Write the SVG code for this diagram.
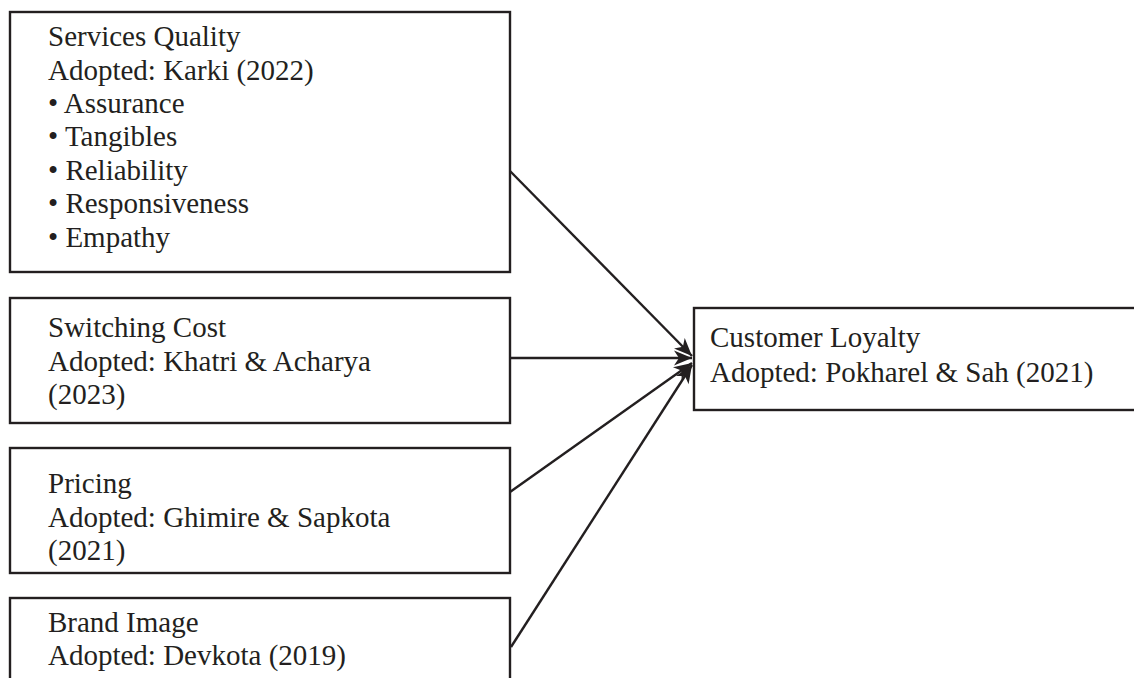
<svg xmlns="http://www.w3.org/2000/svg" width="1134" height="678" viewBox="0 0 1134 678">
  <style>
    .box { fill: #ffffff; stroke: #231f20; stroke-width: 2.4; }
    .label { font-family: "Liberation Serif", "Times New Roman", serif; font-size: 29px; fill: #231f20; }
    .link { fill: none; stroke: #231f20; stroke-width: 2.4; }
  </style>
  <defs>
    <marker id="arrow" markerUnits="userSpaceOnUse" markerWidth="22" markerHeight="18" viewBox="-20 -9 22 18" refX="0" refY="0" orient="auto">
      <path d="M0,0 L-18,-7.5 L-13,0 L-18,7.5 Z" fill="#231f20"/>
    </marker>
  </defs>

  <rect width="1134" height="678" fill="#ffffff"/>

  <g id="services-quality">
    <rect class="box" x="10" y="12" width="500" height="260"/>
    <text class="label" x="48" y="46">Services Quality</text>
    <text class="label" x="48" y="80">Adopted: Karki (2022)</text>
    <text class="label" x="48" y="113">• Assurance</text>
    <text class="label" x="48" y="146">• Tangibles</text>
    <text class="label" x="48" y="180">• Reliability</text>
    <text class="label" x="48" y="213">• Responsiveness</text>
    <text class="label" x="48" y="247">• Empathy</text>
  </g>

  <g id="switching-cost">
    <rect class="box" x="10" y="298" width="500" height="125"/>
    <text class="label" x="48" y="337">Switching Cost</text>
    <text class="label" x="48" y="371">Adopted: Khatri &amp; Acharya</text>
    <text class="label" x="48" y="404">(2023)</text>
  </g>

  <g id="pricing">
    <rect class="box" x="10" y="448" width="500" height="125"/>
    <text class="label" x="48" y="493">Pricing</text>
    <text class="label" x="48" y="527">Adopted: Ghimire &amp; Sapkota</text>
    <text class="label" x="48" y="560">(2021)</text>
  </g>

  <g id="brand-image">
    <rect class="box" x="10" y="598" width="500" height="100"/>
    <text class="label" x="48" y="632">Brand Image</text>
    <text class="label" x="48" y="665">Adopted: Devkota (2019)</text>
  </g>

  <g id="customer-loyalty">
    <rect class="box" x="694" y="308" width="460" height="102"/>
    <text class="label" x="710" y="347">Customer Loyalty</text>
    <text class="label" x="710" y="382">Adopted: Pokharel &amp; Sah (2021)</text>
  </g>

  <g id="connectors">
    <line class="link" x1="510" y1="171" x2="692" y2="356" marker-end="url(#arrow)"/>
    <line class="link" x1="510" y1="358" x2="692" y2="358" marker-end="url(#arrow)"/>
    <line class="link" x1="510" y1="492" x2="692" y2="363" marker-end="url(#arrow)"/>
    <line class="link" x1="511" y1="647" x2="692" y2="365" marker-end="url(#arrow)"/>
  </g>
</svg>
